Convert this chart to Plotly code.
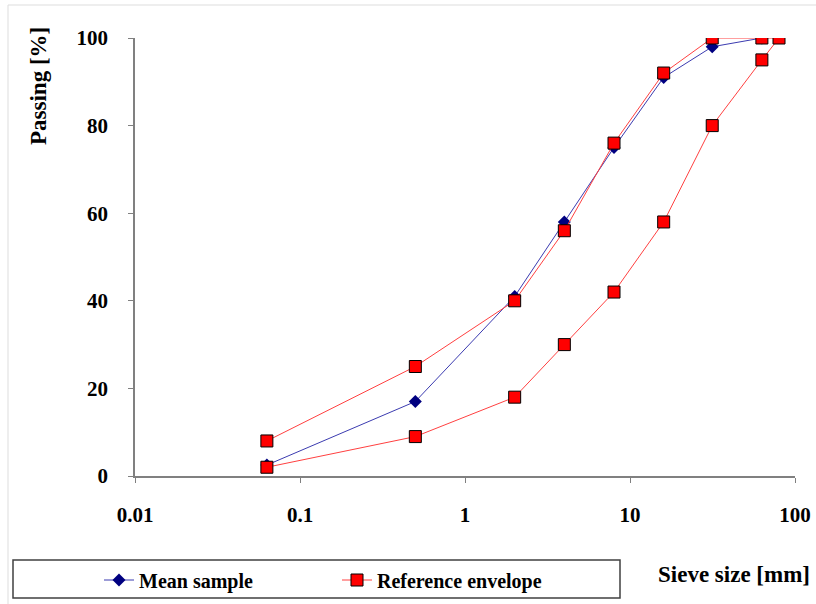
import plotly.graph_objects as go

# Data
mean_sizes = [0.063, 0.5, 2, 4, 8, 16, 31.5, 63]
mean_passing = [2.5, 17, 41, 58, 75, 91, 98, 100]

env_sizes = [0.063, 0.5, 2, 4, 8, 16, 31.5, 63, 80, 63, 31.5, 16, 8, 4, 2, 0.5, 0.063]
env_passing = [8, 25, 40, 56, 76, 92, 100, 100, 100, 95, 80, 58, 42, 30, 18, 9, 2]

x_ticks = [0.01, 0.1, 1, 10, 100]
x_tick_labels = ["0.01", "0.1", "1", "10", "100"]
y_ticks = [0, 20, 40, 60, 80, 100]

FONT = "Liberation Serif"

fig = go.Figure()
fig.add_trace(go.Scatter(
    x=mean_sizes, y=mean_passing, name="<b>Mean sample</b>", mode="lines+markers",
    line=dict(color="#3b3bb0", width=1),
    marker=dict(symbol="diamond", size=10, color="#000080", line=dict(color="#000080", width=0)),
    legend="legend",
))
fig.add_trace(go.Scatter(
    x=env_sizes, y=env_passing, name="<b>Reference envelope</b>", mode="lines+markers",
    line=dict(color="#ff4040", width=1),
    marker=dict(symbol="square", size=12, color="#ff0000", line=dict(color="#000000", width=1)),
    legend="legend2",
))

W, H = 816, 604
PL, PR, PT, PB = 135, 795, 38, 476   # plot area in page pixels
L, T, R, B = PL, PT, W - PR, H - PB
pw, ph = PR - PL, PB - PT

def px(x):
    return (x - PL) / pw

def py(y):
    return (PB - y) / ph

leg_common = dict(orientation="h", yanchor="middle", xanchor="left", xref="container", yref="container",
                  font=dict(family=FONT, size=20, color="black"), bgcolor="rgba(0,0,0,0)")

fig.update_layout(
    width=W, height=H,
    margin=dict(l=L, r=R, t=T, b=B, autoexpand=False),
    paper_bgcolor="white", plot_bgcolor="white",
    font=dict(family=FONT, color="black"),
    showlegend=True,
    legend=dict(x=99 / W, y=(H - 580) / H, **leg_common),
    legend2=dict(x=337 / W, y=(H - 580) / H, **leg_common),
    xaxis=dict(
        type="log", range=[-2, 2], tickvals=x_ticks, ticktext=["<b>%s</b>" % t for t in x_tick_labels],
        showgrid=False, zeroline=False, showline=True, linecolor="#808080", linewidth=1.5,
        ticks="outside", ticklen=5, tickcolor="#808080", ticklabelstandoff=14, automargin=False,
        tickfont=dict(family=FONT, size=21, color="black"),
    ),
    yaxis=dict(
        range=[0, 100], tickvals=y_ticks, ticktext=["<b>%d</b>" % t for t in y_ticks],
        showgrid=False, zeroline=False, showline=True, linecolor="#808080", linewidth=1.5,
        ticks="outside", ticklen=5, tickcolor="#808080", ticklabelstandoff=16, automargin=False,
        tickfont=dict(family=FONT, size=21, color="black"),
    ),
    annotations=[
        dict(text="<b>Passing [%]</b>", xref="paper", yref="paper", x=px(38), y=py(86),
             textangle=-90, showarrow=False, font=dict(family=FONT, size=23, color="black"),
             xanchor="center", yanchor="middle"),
        dict(text="<b>Sieve size [mm]</b>", xref="paper", yref="paper", x=px(734), y=py(574),
             showarrow=False, font=dict(family=FONT, size=23, color="black"),
             xanchor="center", yanchor="middle"),
    ],
    shapes=[
        dict(type="rect", xref="paper", yref="paper", x0=px(13), x1=px(620), y0=py(560), y1=py(598),
             line=dict(color="#404040", width=1.5), fillcolor="rgba(0,0,0,0)"),
        dict(type="line", xref="paper", yref="paper", x0=px(8), x1=px(816), y0=py(5), y1=py(5),
             line=dict(color="#dddddd", width=1)),
        dict(type="line", xref="paper", yref="paper", x0=px(8), x1=px(8), y0=py(5), y1=py(604),
             line=dict(color="#dddddd", width=1)),
    ],
)

fig.write_html(
    "out.html",
    config={"displayModeBar": False},
    post_script="document.body.style.margin='0';document.body.style.overflow='hidden';",
)
